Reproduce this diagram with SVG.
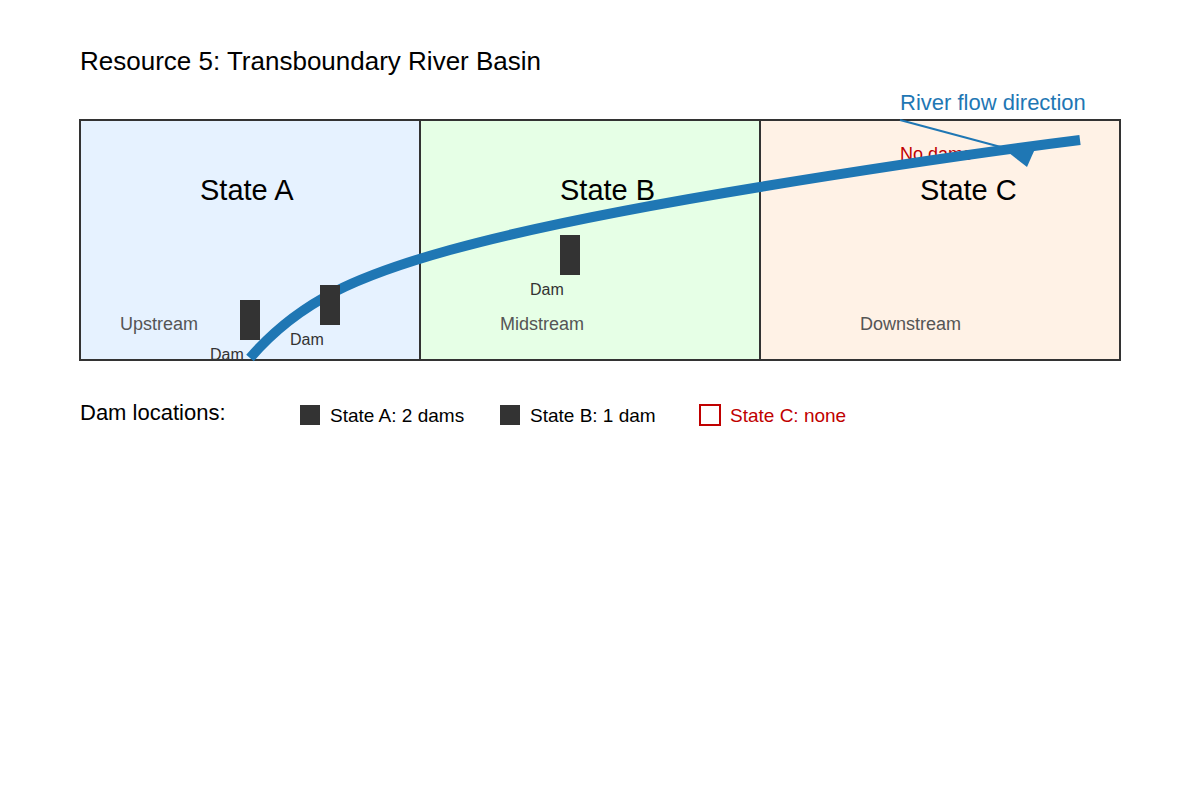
<svg xmlns="http://www.w3.org/2000/svg" width="1200" height="800" viewBox="0 0 1200 800">
<style>
text{font-family:"Liberation Sans",Arial,sans-serif}
.st{font-size:29px;fill:#000}
.sub{font-size:18px;fill:#555}
.dl{font-size:16px;fill:#333}
.dam{fill:#333}
.lg{font-size:19px;fill:#000}
</style>
<rect width="1200" height="800" fill="#fff"/>
<text x="80" y="70" font-size="26">Resource 5: Transboundary River Basin</text>
<g id="stateA"><rect x="80" y="120" width="340" height="240" fill="#e6f2ff" stroke="#333" stroke-width="2"/><text class="st" x="200" y="200">State A</text><text class="sub" x="120" y="330">Upstream</text></g>
<g id="stateB"><rect x="420" y="120" width="340" height="240" fill="#e6ffe6" stroke="#333" stroke-width="2"/><text class="st" x="560" y="200">State B</text><text class="sub" x="500" y="330">Midstream</text></g>
<g id="stateC"><rect x="760" y="120" width="360" height="240" fill="#fff2e6" stroke="#333" stroke-width="2"/><text class="st" x="920" y="200">State C</text><text class="sub" x="860" y="330">Downstream</text></g>
<text x="900" y="160" font-size="18" fill="#c00000" font-family="Liberation Sans,sans-serif">No dams</text>
<g id="connectors">
<path d="M250,358 C300,300 360,275 450,250 S650,205 760,187 S960,155 1080,140" fill="none" stroke="#1f77b4" stroke-width="10"/>
<line x1="900" y1="120" x2="1012" y2="150" stroke="#1f77b4" stroke-width="2"/>
<polygon points="1004,149 1038,142 1027,167" fill="#1f77b4"/>
</g>
<text x="900" y="110" font-size="22" fill="#1f77b4" font-family="Liberation Sans,sans-serif">River flow direction</text>
<g id="dam1"><rect class="dam" x="240" y="300" width="20" height="40"/><text class="dl" x="210" y="360">Dam</text></g>
<g id="dam2"><rect class="dam" x="320" y="285" width="20" height="40"/><text class="dl" x="290" y="345">Dam</text></g>
<g id="dam3"><rect class="dam" x="560" y="235" width="20" height="40"/><text class="dl" x="530" y="295">Dam</text></g>
<g id="legend">
<text x="80" y="420" font-size="22">Dam locations:</text>
<rect class="dam" x="300" y="405" width="20" height="20"/><text class="lg" x="330" y="422">State A: 2 dams</text>
<rect class="dam" x="500" y="405" width="20" height="20"/><text class="lg" x="530" y="422">State B: 1 dam</text>
<rect x="700" y="405" width="20" height="20" fill="none" stroke="#c00000" stroke-width="2"/><text x="730" y="422" font-size="19" fill="#c00000">State C: none</text>
</g>
</svg>
